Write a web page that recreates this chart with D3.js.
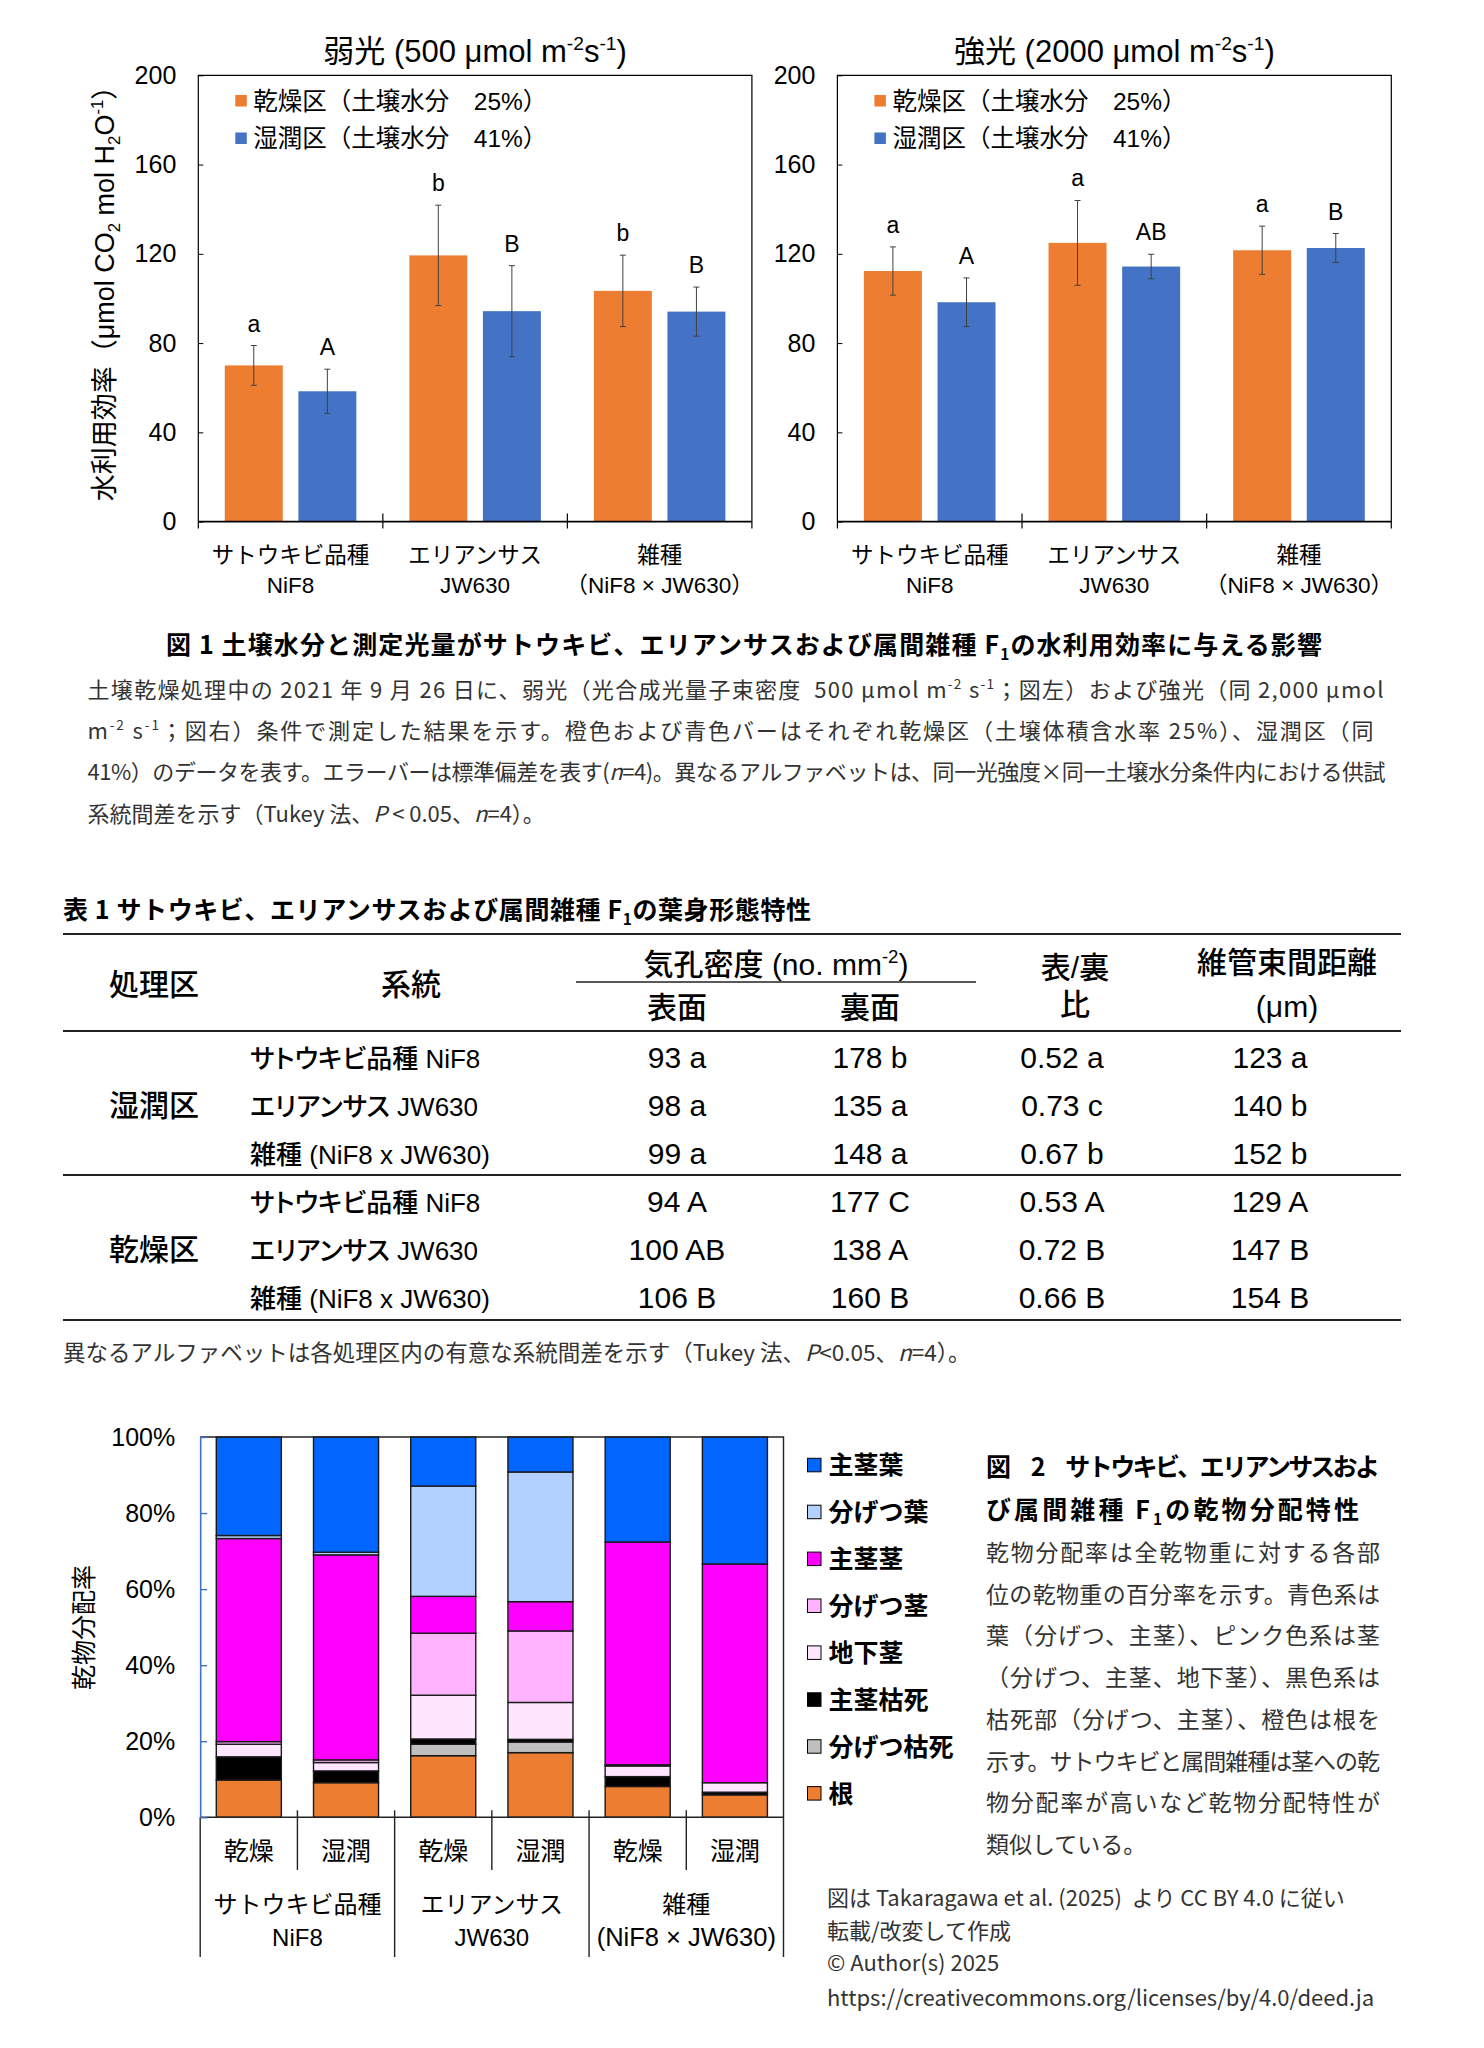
<!DOCTYPE html>
<html><head><meta charset="utf-8">
<script src="https://cdn.jsdelivr.net/npm/d3@7"></script>
<style>body{margin:0;background:#fff} svg{display:block} text{white-space:pre} .palt{font-feature-settings:"palt" 1}</style>
</head><body>
<svg id="fig" width="1484" height="2048"></svg>
<script>
// ---------------- DATA ----------------
// Fig.1 water use efficiency
const wueCategories = [["サトウキビ品種","NiF8"],["エリアンサス","JW630"],["雑種","（NiF8 × JW630）"]];
const wueSeries = ["乾燥区（土壌水分　25%）","湿潤区（土壌水分　41%）"];
const wueTicks = [0,40,80,120,160,200];
const weakDry = [70.0,119.3,103.4];
const weakDryErr = [8.9,22.5,16.0];
const weakDryLetters = ["a","b","b"];
const weakWet = [58.4,94.3,94.1];
const weakWetErr = [9.9,20.4,11.0];
const weakWetLetters = ["A","B","B"];
const strongDry = [112.3,124.9,121.6];
const strongDryErr = [10.8,19.0,10.8];
const strongDryLetters = ["a","a","a"];
const strongWet = [98.3,114.3,122.6];
const strongWetErr = [10.9,5.5,6.5];
const strongWetLetters = ["A","AB","B"];

// Table 1
const tableHeadLines = ["サトウキビ品種 NiF8","エリアンサス JW630","雑種 (NiF8 x JW630)"];
const tableTreatments = ["湿潤区","乾燥区"];
const wetAdaxial = ["93 a","98 a","99 a"];
const wetAbaxial = ["178 b","135 a","148 a"];
const wetRatio = ["0.52 a","0.73 c","0.67 b"];
const wetVB = ["123 a","140 b","152 b"];
const dryAdaxial = ["94 A","100 AB","106 B"];
const dryAbaxial = ["177 C","138 A","160 B"];
const dryRatio = ["0.53 A","0.72 B","0.66 B"];
const dryVB = ["129 A","147 B","154 B"];

// Fig.2 dry matter partitioning (%), stack order bottom -> top
const dmParts = ["根","分げつ枯死","主茎枯死","地下茎","分げつ茎","主茎茎","分げつ葉","主茎葉"];
const dmColors = ["#ED7D31","#BFBFBF","#000000","#FFE6FF","#FFB3FF","#FF00FF","#B3D1FF","#0066FF"];
const dmBars = ["乾燥","湿潤","乾燥","湿潤","乾燥","湿潤"];
const dmGroups = [["サトウキビ品種","NiF8"],["エリアンサス","JW630"],["雑種","(NiF8 × JW630)"]];
const dmTicks = [0,20,40,60,80,100];
const dmNiF8Dry   = [9.8,0,6.1,3.3,0.7,53.4,0.8,25.9];
const dmNiF8Wet   = [9.1,0,3.1,2.2,0.7,53.9,0.7,30.3];
const dmJW630Dry  = [16.2,3.0,1.4,11.5,16.3,9.7,29.0,12.9];
const dmJW630Wet  = [17.0,2.8,0.7,9.7,18.8,7.7,34.1,9.2];
const dmF1Dry     = [8.1,0,2.6,2.8,0.3,58.6,0,27.6];
const dmF1Wet     = [5.9,0,0.7,2.5,0,57.5,0,33.4];

// ---------------- HELPERS ----------------
const LAT = "'Liberation Sans', Arial, 'Noto Sans CJK JP', sans-serif";
const JP = "'Noto Sans CJK JP', sans-serif";
const ORANGE = "#ED7D31", BLUE = "#4472C4";
const svg = d3.select("#fig");
svg.append("rect").attr("width",1484).attr("height",2048).attr("fill","#fff");

function rich(g, x, y, segs, size, attrs) {
  const t = g.append("text").attr("x", x).attr("y", y).attr("font-size", size);
  for (const k in (attrs||{})) t.attr(k, attrs[k]);
  let shift = 0;
  segs.forEach(s => {
    const [txt, st] = typeof s === "string" ? [s, ""] : s;
    const target = st === "sup" ? -0.4*size : st === "sub" ? 0.22*size : 0;
    const ts = t.append("tspan").text(txt);
    if (target - shift !== 0) ts.attr("dy", target - shift);
    if (st === "sup" || st === "sub") ts.attr("font-size", size*0.62);
    if (st === "i") ts.attr("font-style", "italic");
    shift = target;
  });
  return t;
}

// ---------------- FIG 1 ----------------
function drawWUE(o) {
  const g = svg.append("g");
  const y = d3.scaleLinear().domain([0,200]).range([o.yBot, o.yTop]);
  const xg = d3.scaleBand().domain(d3.range(wueCategories.length)).range([o.x0, o.x1]);
  const xs = d3.scaleBand().domain([0,1]).range([0, xg.bandwidth()]).paddingInner(0.212).paddingOuter(0.36);
  const series = [
    {v:o.dry, e:o.dryErr, l:o.dryL, c:ORANGE},
    {v:o.wet, e:o.wetErr, l:o.wetL, c:BLUE}
  ];
  series.forEach((s, si) => {
    s.v.forEach((v, i) => {
      const bx = xg(i) + xs(si), bw = xs.bandwidth();
      g.append("rect").attr("x", bx).attr("y", y(v)).attr("width", bw)
        .attr("height", y(0) - y(v)).attr("fill", s.c);
    });
  });
  series.forEach((s, si) => {
    s.v.forEach((v, i) => {
      const cx = xg(i) + xs(si) + xs.bandwidth()/2;
      const top = y(v + s.e[i]), bot = y(v - s.e[i]);
      const eg = g.append("g").attr("stroke", "#404040").attr("stroke-width", 1);
      eg.append("line").attr("x1", cx).attr("x2", cx).attr("y1", top).attr("y2", bot);
      eg.append("line").attr("x1", cx-3).attr("x2", cx+3).attr("y1", top).attr("y2", top);
      eg.append("line").attr("x1", cx-3).attr("x2", cx+3).attr("y1", bot).attr("y2", bot);
      g.append("text").attr("x", cx).attr("y", top - 14).attr("text-anchor", "middle")
        .attr("font-family", LAT).attr("font-size", 23).text(s.l[i]);
    });
  });
  // y axis
  const ax = g.append("g").attr("transform", `translate(${o.x0},0)`)
    .call(d3.axisLeft(y).tickValues(wueTicks).tickSize(-5).tickSizeOuter(0).tickPadding(22));
  ax.select(".domain").remove();
  ax.selectAll("line").attr("stroke", "#000");
  ax.selectAll("text").attr("font-size", 25).attr("font-family", LAT).attr("fill", "#000");
  // frame
  g.append("path").attr("d", `M${o.x0},${o.yBot+7}V${o.yTop}H${o.x1}V${o.yBot+7}`)
    .attr("fill", "none").attr("stroke", "#000").attr("stroke-width", 1.2);
  g.append("line").attr("x1", o.x0).attr("x2", o.x1).attr("y1", y(0)).attr("y2", y(0))
    .attr("stroke", "#000").attr("stroke-width", 1.6);
  d3.range(1, wueCategories.length).forEach(i => {
    g.append("line").attr("x1", xg(i)).attr("x2", xg(i)).attr("y1", y(0)-8).attr("y2", y(0)+7)
      .attr("stroke", "#000").attr("stroke-width", 1.2);
  });
  // x labels
  wueCategories.forEach((c, i) => {
    const cx = xg(i) + xg.bandwidth()/2;
    c.forEach((line, li) => {
      g.append("text").attr("x", cx).attr("y", y(0) + 41 + li*30).attr("text-anchor", "middle")
        .attr("font-family", LAT).attr("font-size", 22.5).text(line);
    });
  });
  // legend
  wueSeries.forEach((s, si) => {
    const ly = 101 + si*37.5;
    g.append("rect").attr("x", o.x0 + 37).attr("y", ly - 6).attr("width", 11.5).attr("height", 11.5)
      .attr("fill", si === 0 ? ORANGE : BLUE);
    g.append("text").attr("x", o.x0 + 55).attr("y", ly + 8.5).attr("font-family", LAT)
      .attr("font-size", 24.5).text(s);
  });
  // title
  rich(g, (o.x0+o.x1)/2, 62, [o.title + " (" + o.light + " μmol m", ["-2","sup"], ["s",""], ["-1","sup"], [")",""]], 31,
    {"text-anchor":"middle", "font-family":LAT});
}

drawWUE({x0:198.3, x1:751.9, yTop:75.3, yBot:521.6, title:"弱光", light:"500",
  dry:weakDry, dryErr:weakDryErr, dryL:weakDryLetters, wet:weakWet, wetErr:weakWetErr, wetL:weakWetLetters});
drawWUE({x0:837.4, x1:1391.3, yTop:75.3, yBot:521.6, title:"強光", light:"2000",
  dry:strongDry, dryErr:strongDryErr, dryL:strongDryLetters, wet:strongWet, wetErr:strongWetErr, wetL:strongWetLetters});

// y axis title of Fig.1
{
  const g = svg.append("g").attr("transform", "translate(105,287) rotate(-90)");
  rich(g, 0, 9, ["水利用効率（μmol CO", ["2","sub"], [" mol H",""], ["2","sub"], ["O",""], ["-1","sup"], ["）",""]], 27,
    {"text-anchor":"middle", "font-family":LAT});
}

// Fig.1 caption
{
  const g = svg.append("g");
  rich(g, 744, 654, ["図 1 土壌水分と測定光量がサトウキビ、エリアンサスおよび属間雑種 F", ["1","sub"], ["の水利用効率に与える影響",""]], 25,
    {"text-anchor":"middle", "font-family":JP, "font-weight":700, "textLength":1156, "lengthAdjust":"spacing"});
  const cap = {"font-family":JP, "fill":"#333"};
  rich(g, 87.5, 698, ["土壌乾燥処理中の 2021 年 9 月 26 日に、弱光（光合成光量子束密度  500 μmol m", ["-2","sup"], [" s",""], ["-1","sup"], ["；図左）および強光（同 2,000 μmol",""]], 22,
    Object.assign({"textLength":1296, "lengthAdjust":"spacing"}, cap));
  rich(g, 87.5, 739, ["m", ["-2","sup"], [" s",""], ["-1","sup"], ["；図右）条件で測定した結果を示す。橙色および青色バーはそれぞれ乾燥区（土壌体積含水率 25%）、湿潤区（同",""]], 22,
    Object.assign({"textLength":1286, "lengthAdjust":"spacing"}, cap));
  rich(g, 87.5, 780, ["41%）のデータを表す。エラーバーは標準偏差を表す(", ["n","i"], ["=4)。異なるアルファベットは、同一光強度×同一土壌水分条件内における供試",""]], 22,
    Object.assign({"textLength":1298, "lengthAdjust":"spacing"}, cap));
  rich(g, 87.5, 822, ["系統間差を示す（Tukey 法、", ["P","i"], [" < 0.05、",""], ["n","i"], ["=4）。",""]], 22, cap);
}

// ---------------- TABLE 1 ----------------
{
  const g = svg.append("g").attr("font-family", LAT).attr("font-size", 28).attr("font-weight", 500);
  rich(g, 63, 919, ["表 1 サトウキビ、エリアンサスおよび属間雑種 F", ["1","sub"], ["の葉身形態特性",""]], 25,
    {"font-family":JP, "font-weight":700, "textLength":748, "lengthAdjust":"spacing"});
  const rule = (yy, x1, x2, w) => g.append("line").attr("x1", x1).attr("x2", x2).attr("y1", yy).attr("y2", yy)
    .attr("stroke", "#222").attr("stroke-width", w);
  rule(934, 63, 1401, 2); rule(1031, 63, 1401, 2); rule(1175, 63, 1401, 2); rule(1320, 63, 1401, 2);
  rule(982, 576, 976, 1.5);
  const cols = [677, 870, 1062, 1270];
  const ct = (x, yy, t, fs) => g.append("text").attr("x", x).attr("y", yy).attr("text-anchor", "middle")
    .attr("font-size", fs || 30).text(t);
  ct(154, 995, "処理区", 30); ct(411, 995, "系統", 30);
  rich(g, 776, 975, ["気孔密度 (no. mm", ["-2","sup"], [")",""]], 30, {"text-anchor":"middle"});
  ct(cols[0], 1018, "表面", 30); ct(cols[1], 1018, "裏面", 30);
  ct(1075, 978, "表/裏", 30); ct(1075, 1015, "比", 30);
  ct(1287, 973, "維管束間距離", 30); ct(1287, 1017, "(μm)", 30);
  const blocks = [
    {name: tableTreatments[0], vals: [wetAdaxial, wetAbaxial, wetRatio, wetVB], y0: 1068},
    {name: tableTreatments[1], vals: [dryAdaxial, dryAbaxial, dryRatio, dryVB], y0: 1212}
  ];
  blocks.forEach(b => {
    ct(154, b.y0 + 48, b.name, 30);
    tableHeadLines.forEach((ln, i) => {
      const yy = b.y0 + i*48;
      g.append("text").attr("x", 250).attr("y", yy).attr("font-size", 26).attr("class", "palt").text(ln);
      b.vals.forEach((col, ci) => ct(cols[ci], yy, col[i], 30));
    });
  });
  rich(g, 63, 1361, ["異なるアルファベットは各処理区内の有意な系統間差を示す（Tukey 法、", ["P","i"], ["<0.05、",""], ["n","i"], ["=4）。",""]], 22.5,
    {"font-family":JP, "fill":"#333", "font-weight":400});
}

// ---------------- FIG 2 ----------------
{
  const g = svg.append("g");
  const x0 = 200.2, x1 = 783.5, yTop = 1437, yBot = 1817.3, yEnd = 1957;
  const rows = [dmNiF8Dry, dmNiF8Wet, dmJW630Dry, dmJW630Wet, dmF1Dry, dmF1Wet]
    .map((v, i) => Object.assign({idx: i}, Object.fromEntries(dmParts.map((p, j) => [p, v[j]]))));
  const x = d3.scaleBand().domain(d3.range(rows.length)).range([x0, x1]).paddingInner(0.331).paddingOuter(0.1655);
  const y = d3.scaleLinear().domain([0,100]).range([yBot, yTop]);
  const stack = d3.stack().keys(dmParts)(rows);
  stack.forEach((layer, li) => {
    layer.forEach((d, i) => {
      if (d[1] - d[0] <= 0) return;
      g.append("rect").attr("x", x(i)).attr("width", x.bandwidth())
        .attr("y", y(d[1])).attr("height", y(d[0]) - y(d[1]))
        .attr("fill", dmColors[li]).attr("stroke", "#1a1a1a").attr("stroke-width", 1.4);
    });
  });
  // frame
  g.append("path").attr("d", `M${x0},${yTop}H${x1}V${yEnd}`).attr("fill", "none").attr("stroke", "#222").attr("stroke-width", 1.4);
  g.append("line").attr("x1", x0).attr("x2", x1).attr("y1", yBot).attr("y2", yBot).attr("stroke", "#222").attr("stroke-width", 1.6);
  g.append("line").attr("x1", x0).attr("x2", x0).attr("y1", yBot).attr("y2", yEnd).attr("stroke", "#222").attr("stroke-width", 1.4);
  const gap = (x.step() - x.bandwidth())/2;
  d3.range(1, rows.length).forEach(j => {
    const bx = x(j) - gap;
    g.append("line").attr("x1", bx).attr("x2", bx).attr("y1", yBot - 7).attr("y2", j % 2 === 1 ? 1870 : yEnd)
      .attr("stroke", "#222").attr("stroke-width", 1.4);
  });
  // y axis (blue)
  const ax = g.append("g").attr("transform", `translate(${x0},0)`)
    .call(d3.axisLeft(y).tickValues(dmTicks).tickFormat(d => d + "%").tickSize(-7).tickSizeOuter(0).tickPadding(25));
  ax.select(".domain").attr("stroke", BLUE).attr("stroke-width", 1.6);
  ax.selectAll("line").attr("stroke", BLUE).attr("stroke-width", 1.4);
  ax.selectAll("text").attr("font-size", 25).attr("font-family", LAT).attr("fill", "#000");
  // x labels
  dmBars.forEach((b, i) => {
    g.append("text").attr("x", x(i) + x.bandwidth()/2).attr("y", 1860).attr("text-anchor", "middle")
      .attr("font-family", LAT).attr("font-size", 25).text(b);
  });
  dmGroups.forEach((gr, k) => {
    const cx = (x(2*k) + x(2*k+1) + x.bandwidth())/2;
    gr.forEach((ln, li) => {
      g.append("text").attr("x", cx).attr("y", 1913 + li*33).attr("text-anchor", "middle")
        .attr("font-family", LAT).attr("font-size", li === 1 && k === 2 ? 25.5 : 24).text(ln);
    });
  });
  // y title
  g.append("text").attr("transform", "translate(83.6,1627.5) rotate(-90)").attr("y", 9)
    .attr("text-anchor", "middle").attr("font-family", LAT).attr("font-size", 25).text("乾物分配率");
  // legend (top -> bottom)
  const legendOrder = dmParts.map((p, i) => ({p, c: dmColors[i]})).reverse();
  legendOrder.forEach((d, i) => {
    const ly = 1465.3 + i*46.9;
    g.append("rect").attr("x", 807.5).attr("y", ly - 7).attr("width", 13.5).attr("height", 13.5)
      .attr("fill", d.c).attr("stroke", "#000").attr("stroke-width", 1);
    g.append("text").attr("x", 828.5).attr("y", ly + 9).attr("font-family", JP).attr("font-weight", 700)
      .attr("font-size", 25).text(d.p);
  });
}

// Fig.2 caption
{
  const g = svg.append("g").attr("font-family", JP);
  g.append("text").attr("x", 986).attr("y", 1476).attr("font-size", 25).attr("font-weight", 700)
    .attr("textLength", 394).attr("lengthAdjust", "spacing").text("図　2　サトウキビ、エリアンサスおよ");
  rich(g, 986, 1519, ["び属間雑種 F", ["1","sub"], ["の乾物分配特性",""]], 25, {"font-weight":700, "textLength":373, "lengthAdjust":"spacing"});
  const body = ["乾物分配率は全乾物重に対する各部","位の乾物重の百分率を示す。青色系は","葉（分げつ、主茎）、ピンク色系は茎",
    "（分げつ、主茎、地下茎）、黒色系は","枯死部（分げつ、主茎）、橙色は根を","示す。サトウキビと属間雑種は茎への乾",
    "物分配率が高いなど乾物分配特性が","類似している。"];
  body.forEach((ln, i) => {
    const t = g.append("text").attr("x", 986).attr("y", 1561 + i*41.7).attr("font-size", 23).attr("fill", "#333").text(ln);
    if (i < body.length - 1) t.attr("textLength", 394).attr("lengthAdjust", "spacing");
  });
  const credits = ["図は Takaragawa et al. (2025)  より CC BY 4.0 に従い","転載/改変して作成","© Author(s) 2025",
    "https://creativecommons.org/licenses/by/4.0/deed.ja"];
  const cy = [1906, 1939, 1971, 2006];
  credits.forEach((ln, i) => {
    g.append("text").attr("x", 827).attr("y", cy[i]).attr("font-size", 22).attr("fill", "#333").text(ln);
  });
}
</script>
</body></html>
